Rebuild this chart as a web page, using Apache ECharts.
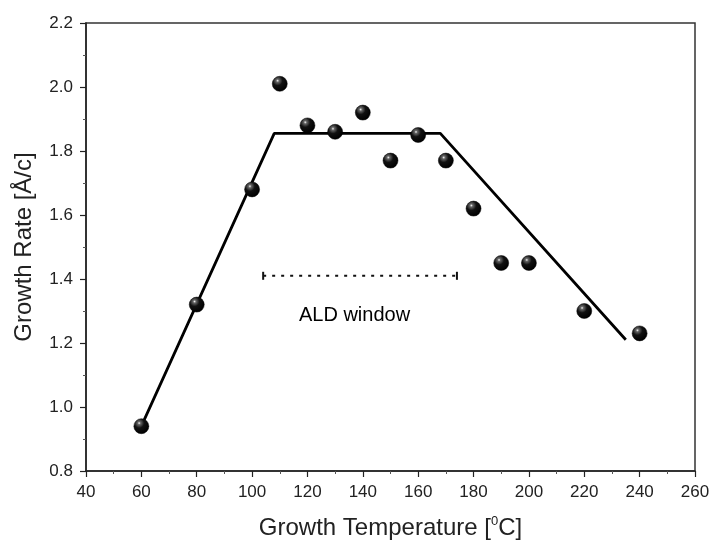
<!DOCTYPE html>
<html>
<head>
<meta charset="utf-8">
<script src="https://cdn.jsdelivr.net/npm/echarts@6/dist/echarts.min.js"></script>
<style>
  html, body { margin: 0; padding: 0; background: #fff; }
  #chart { width: 712px; height: 540px; }
</style>
</head>
<body>
<div id="chart"></div>
<script>
// measured growth rate vs temperature
var temps = [60, 80, 100, 110, 120, 130, 140, 150, 160, 170, 180, 190, 200, 220, 240];
var rates = [0.94, 1.32, 1.68, 2.01, 1.88, 1.86, 1.92, 1.77, 1.85, 1.77, 1.62, 1.45, 1.45, 1.30, 1.23];

// guide line (rise, plateau, fall)
var fitX = [60, 108, 168, 235];
var fitY = [0.94, 1.855, 1.855, 1.21];

// ALD window marker
var windowX = [104, 174];
var windowY = 1.41;
var windowLabel = 'ALD window';
var windowLabelPos = [137, 1.285];

var xTicks = [40, 60, 80, 100, 120, 140, 160, 180, 200, 220, 240, 260];
var yTicks = [0.8, 1.0, 1.2, 1.4, 1.6, 1.8, 2.0, 2.2];

var chart = echarts.init(document.getElementById('chart'));

var font = 'Liberation Sans, Arial, sans-serif';

var sphere = new echarts.graphic.RadialGradient(0.36, 0.3, 0.7, [
    { offset: 0, color: '#f4f4f4' },
    { offset: 0.14, color: '#666' },
    { offset: 0.45, color: '#111' },
    { offset: 1, color: '#000' }
]);

var option = {
    backgroundColor: '#fff',
    animation: false,
    grid: {
        left: 86, right: 17, top: 23, bottom: 69,
        outerBoundsMode: 'none',
        containLabel: false,
        show: true,
        borderColor: '#333',
        borderWidth: 1.5
    },
    xAxis: {
        type: 'value',
        min: xTicks[0], max: xTicks[xTicks.length - 1], interval: 20,
        name: 'Growth Temperature [{sup|0}C]',
        nameLocation: 'middle',
        nameGap: 44,
        nameTextStyle: {
            fontFamily: font, fontSize: 24, color: '#222',
            rich: { sup: { fontSize: 13, verticalAlign: 'top', padding: [0, 0, 13, 0], fontFamily: font, color: '#222' } }
        },
        axisLine: { onZero: false, lineStyle: { color: '#222', width: 1.5 } },
        axisTick: { inside: false, length: 6, lineStyle: { color: '#222', width: 1.2 } },
        minorTick: { show: true, splitNumber: 2, length: 3, lineStyle: { color: '#555' } },
        axisLabel: { fontFamily: font, fontSize: 17, color: '#222', margin: 13 },
        splitLine: { show: false }
    },
    yAxis: {
        type: 'value',
        min: yTicks[0], max: yTicks[yTicks.length - 1], interval: 0.2,
        name: 'Growth Rate [Å/c]',
        nameLocation: 'middle',
        nameGap: 50,
        nameTextStyle: { fontFamily: font, fontSize: 24, color: '#222' },
        axisLine: { onZero: false, lineStyle: { color: '#222', width: 1.5 } },
        axisTick: { inside: false, length: 6, lineStyle: { color: '#222', width: 1.2 } },
        minorTick: { show: true, splitNumber: 2, length: 3, lineStyle: { color: '#555' } },
        axisLabel: {
            fontFamily: font, fontSize: 17, color: '#222', margin: 13,
            formatter: function (v) { return v.toFixed(1); }
        },
        splitLine: { show: false }
    },
    series: [
        {
            type: 'line',
            data: fitX.map(function (x, i) { return [x, fitY[i]]; }),
            symbol: 'none',
            lineStyle: { color: '#000', width: 2.8 },
            z: 2
        },
        {
            type: 'line',
            data: windowX.map(function (x) { return [x, windowY]; }),
            symbol: 'rect',
            symbolSize: [2, 8],
            itemStyle: { color: '#111' },
            lineStyle: { color: '#111', width: 2, type: [3, 6] },
            z: 2
        },
        {
            type: 'scatter',
            data: [windowLabelPos],
            symbolSize: 0,
            itemStyle: { opacity: 1 },
            label: {
                show: true, position: 'inside',
                formatter: windowLabel,
                fontFamily: font, fontSize: 20, color: '#000'
            },
            z: 3
        },
        {
            type: 'scatter',
            data: temps.map(function (t, i) { return [t, rates[i]]; }),
            symbol: 'circle',
            symbolSize: 15,
            itemStyle: { color: sphere, borderColor: '#000', borderWidth: 0.5, opacity: 1 },
            z: 5
        }
    ]
};

chart.setOption(option);
</script>
</body>
</html>
